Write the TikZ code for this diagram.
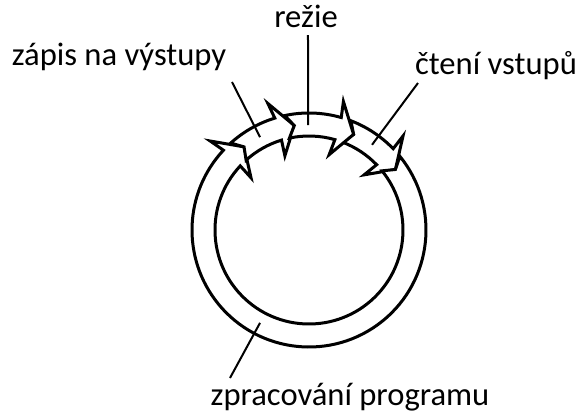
\documentclass[tikz,border=0pt]{standalone}
\usepackage{fontspec}
\setmainfont{Carlito}
\usetikzlibrary{positioning}

\begin{document}
\begin{tikzpicture}[
  x=0.5pt, y=0.5pt,
  seg/.style={draw, line width=1.5pt, line join=miter, fill=white},
  leader/.style={draw, line width=1pt},
  txt/.style={font=\fontsize{16.3}{19}\selectfont, inner sep=0pt, anchor=base}
]
\useasboundingbox (-309,-184) rectangle (277,230);

% ring of four arrows, clockwise
\draw[seg] (69:117) arc[start angle=69, end angle=44, radius=117] -- (45:133) -- (35:105.5)
  -- (45:78) -- (44:94) arc[start angle=44, end angle=69, radius=94] -- (65:105.5) -- cycle;
\draw[seg] (39:117) arc[start angle=39, end angle=-223, radius=117] -- (-222:133) -- (-232:105.5)
  -- (-222:78) -- (-223:94) arc[start angle=-223, end angle=39, radius=94] -- (35:105.5) -- cycle;
\draw[seg] (132:117) arc[start angle=132, end angle=107, radius=117] -- (108:133) -- (98:105.5)
  -- (108:78) -- (107:94) arc[start angle=107, end angle=132, radius=94] -- (128:105.5) -- cycle;
\draw[seg] (102:117) arc[start angle=102, end angle=74, radius=117] -- (75:133) -- (65:105.5)
  -- (75:78) -- (74:94) arc[start angle=74, end angle=102, radius=94] -- (98:105.5) -- cycle;

% labels
\node[txt] (zapis) at (-190,165) {zápis na výstupy};
\node[txt] (rezie) at (-3,203) {režie};
\node[txt] (cteni) at (187,156) {čtení vstupů};
\node[txt] (zprac) at (41,-175) {zpracování programu};

% leader lines
\coordinate (zapis-a) at (-77,148);
\coordinate (zapis-b) at (117.8:105);
\coordinate (rezie-a) at (-1,195);
\coordinate (rezie-b) at (90.5:105);
\coordinate (cteni-a) at (109,147);
\coordinate (cteni-b) at (53.5:106);
\coordinate (zprac-a) at (-79,-148);
\coordinate (zprac-b) at (-117.8:105);

\draw[leader] (zapis-a) -- (zapis-b);
\draw[leader] (rezie-a) -- (rezie-b);
\draw[leader] (cteni-a) -- (cteni-b);
\draw[leader] (zprac-a) -- (zprac-b);
\end{tikzpicture}
\end{document}
